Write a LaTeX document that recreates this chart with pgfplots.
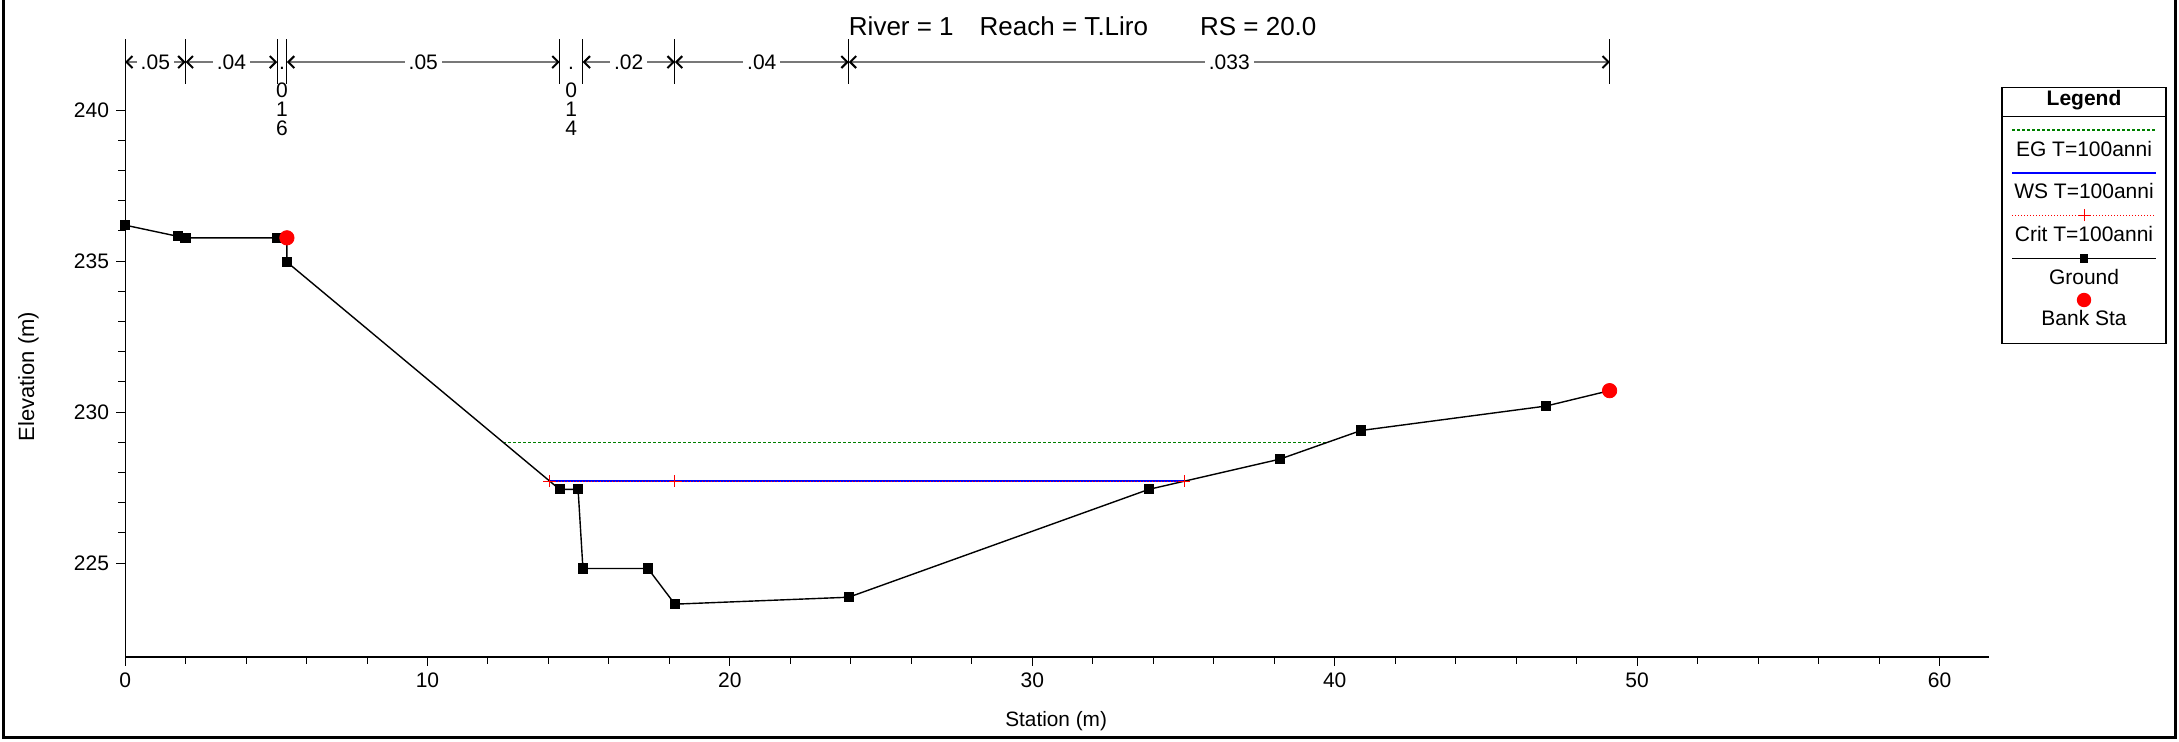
\documentclass[border=0pt]{standalone}
\usepackage{fontspec}
\setmainfont{Liberation Sans}
\usepackage{pgfplots}
\pgfplotsset{compat=1.18}
\usetikzlibrary{arrows.meta}

\definecolor{egcol}{RGB}{0,128,0}
\definecolor{ncol}{RGB}{120,120,120}

% Manning's n segment: from, to, label
\newcommand{\nseg}[3]{%
  \draw[ncol, line width=1pt, {Straight Barb[black,length=3pt,width=6pt]}-{Straight Barb[black,length=3pt,width=6pt]}]
    (axis cs:#1,241.59) -- node[fill=white, text=black, inner xsep=2pt, inner ysep=0pt] {#3} (axis cs:#2,241.59);}
\newcommand{\nvert}[1]{\draw[black, line width=0.5pt] (axis cs:#1,240.87) -- (axis cs:#1,242.34);}
% narrow segment: label written downwards
\newcommand{\nstack}[4]{%
  \node[inner sep=0pt] at (axis cs:#1,241.37) {.};
  \node[inner sep=0pt] at (axis cs:#1,240.66) {#2};
  \node[inner sep=0pt] at (axis cs:#1,240.02) {#3};
  \node[inner sep=0pt] at (axis cs:#1,239.40) {#4};}

\begin{document}
\begin{tikzpicture}[font=\fontsize{10.5}{12}\selectfont]
\useasboundingbox (-62.55pt,-42.15pt) rectangle (1026.95pt,328.35pt);
% outer frame
\draw[line width=1.5pt] (-60.8pt,328.35pt) -- (-60.8pt,-40.6pt) -- (1025.2pt,-40.6pt) -- (1025.2pt,328.35pt);

\begin{axis}[
  at={(0pt,0pt)}, anchor=south west,
  x=15.12pt, y=15.1pt,
  xmin=0, xmax=61.65,
  ymin=221.9, ymax=242.35,
  axis x line*=bottom, axis y line*=left,
  x axis line style={-, line width=1pt},
  y axis line style={-, line width=0.5pt},
  xtick={0,10,...,60}, ytick={225,230,235,240},
  minor x tick num=4, minor y tick num=4,
  tick align=outside,
  major tick length=4.5pt, minor tick length=3.5pt,
  tick style={black, line width=0.5pt},
  tick label style={font=\fontsize{10.5}{12}\selectfont},
  /pgf/number format/assume math mode=true,
  xlabel={Station (m)}, ylabel={Elevation (m)},
  xlabel style={font=\fontsize{10.4}{12}\selectfont, at={(axis description cs:0.4994,-0.1046)}, anchor=center},
  ylabel style={font=\fontsize{11}{12}\selectfont, at={(axis description cs:-0.0519,0.4534)}, anchor=center},
  clip=false,
]
% EG
\addplot[egcol, dash pattern=on 1.5pt off 1pt, line width=0.7pt]
  coordinates {(12.51,229.0) (39.73,229.0)};
% WS
\addplot[blue, line width=0.8pt]
  coordinates {(14.03,227.71) (35.03,227.71)};
% Crit
\addplot[red, densely dotted, line width=0.5pt, mark=+, mark size=3pt, mark options={solid}]
  coordinates {(14.03,227.71) (18.18,227.71) (35.03,227.71)};
% Ground
\addplot[black, line width=0.7pt, mark=square*, mark size=2.2pt]
  coordinates {
  (0,236.19) (1.74,235.82) (2.0,235.77) (5.01,235.77) (5.35,235.77)
  (5.35,234.97) (14.37,227.44) (14.98,227.44) (15.14,224.82) (17.29,224.82)
  (18.18,223.64) (23.93,223.87) (33.85,227.44) (38.18,228.44) (40.87,229.39)
  (46.99,230.2) (49.09,230.71)
  };
% Bank Sta
\addplot[only marks, red, mark=*, mark size=3.6pt]
  coordinates {(5.35,235.77) (49.09,230.71)};

% Manning's n values
\nvert{0}\nvert{2.0}\nvert{5.03}\nvert{5.35}\nvert{14.37}\nvert{15.13}\nvert{18.18}\nvert{23.93}\nvert{49.1}
\nseg{0}{2.0}{.05}
\nseg{2.0}{5.03}{.04}
\nseg{5.35}{14.37}{.05}
\nseg{15.13}{18.18}{.02}
\nseg{18.18}{23.93}{.04}
\nseg{23.93}{49.1}{.033}
\nstack{5.19}{0}{1}{6}
\nstack{14.75}{0}{1}{4}
\end{axis}

% title
\node[font=\fontsize{13}{15}\selectfont] at (478.8pt,315pt)
  {River = 1\hspace{1em}Reach = T.Liro\hspace{2em}RS = 20.0};

% legend
\draw[line width=0.6pt] (938.45pt,156.7pt) rectangle (1020.45pt,284.7pt);
\draw[line width=0.6pt] (938.45pt,270pt) -- (1020.45pt,270pt);
\node[font=\fontsize{10.5}{12}\selectfont\bfseries] at (979.45pt,278.1pt) {Legend};
\draw[egcol, dash pattern=on 1.5pt off 1pt, line width=0.7pt] (943.5pt,263.35pt) -- (1015.3pt,263.35pt);
\node at (979.45pt,253.7pt) {EG T=100anni};
\draw[blue, line width=0.8pt] (943.5pt,242pt) -- (1015.3pt,242pt);
\node at (979.45pt,233pt) {WS T=100anni};
\draw[red, densely dotted, line width=0.5pt] (943.5pt,220.7pt) -- (1015.3pt,220.7pt);
\draw[red, line width=0.5pt] (979.45pt,217.7pt) -- (979.45pt,223.7pt) (976.45pt,220.7pt) -- (982.45pt,220.7pt);
\node at (979.45pt,211.35pt) {Crit T=100anni};
\draw[line width=0.7pt] (943.5pt,199.2pt) -- (1015.3pt,199.2pt);
\fill (977.3pt,197.1pt) rectangle (981.6pt,201.3pt);
\node at (979.45pt,190pt) {Ground};
\fill[red] (979.45pt,178.35pt) circle (3.6pt);
\node at (979.45pt,169.2pt) {Bank Sta};
\end{tikzpicture}
\end{document}
